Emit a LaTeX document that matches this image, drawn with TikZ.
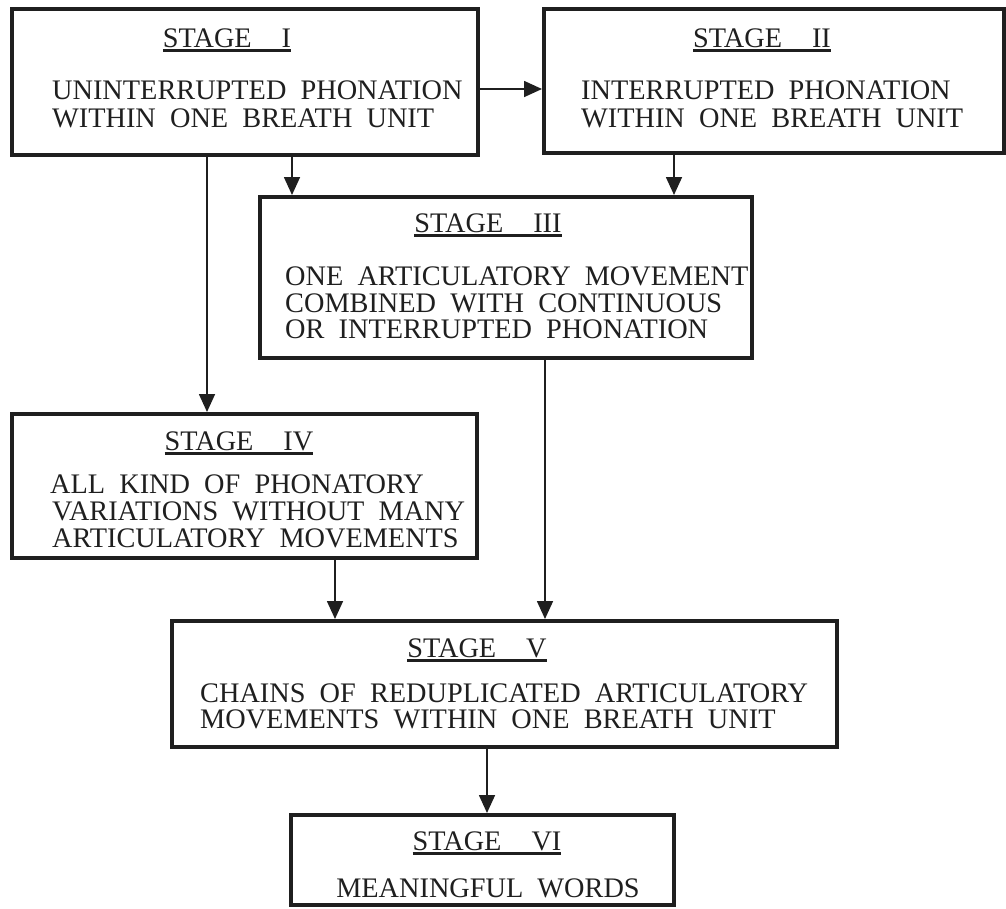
\documentclass[tikz,border=0pt]{standalone}
\usepackage{fontspec}
\setmainfont{Liberation Serif}[WordSpace=2.0]
\usetikzlibrary{arrows.meta}
% underlined stage heading with a wide gap before the numeral
\newcommand\stagetitle[1]{\setbox0\hbox{STAGE\hspace{30pt}#1}\rlap{\rule[-4.5pt]{\wd0}{2.6pt}}\box0}

\begin{document}
\begin{tikzpicture}[x=1pt,y=-1pt,
  stagebox/.style={draw=black!88, line width=4pt, rectangle, inner sep=0pt},
  flow/.style={draw=black!88, line width=1.7pt, -{Triangle[length=18pt,width=16pt]}},
  lbl/.style={inner sep=0pt, anchor=base west, text=black!88, font=\fontsize{28.3}{29}\selectfont},
  ttl/.style={inner sep=0pt, anchor=base, text=black!88, font=\fontsize{28.3}{29}\selectfont}]
\useasboundingbox (0,0) rectangle (1006,908);

% boxes
\node[stagebox, minimum width=466pt, minimum height=146pt] (s1) at (245,82) {};
\node[stagebox, minimum width=460pt, minimum height=144pt] (s2) at (774,81) {};
\node[stagebox, minimum width=492pt, minimum height=161pt] (s3) at (506,277.5) {};
\node[stagebox, minimum width=465pt, minimum height=144pt] (s4) at (244.5,486) {};
\node[stagebox, minimum width=665pt, minimum height=126pt] (s5) at (504.5,684) {};
\node[stagebox, minimum width=383pt, minimum height=90pt] (s6) at (482.5,860) {};

% stage I
\node[ttl] (t1) at (227,47) {\stagetitle{I}};
\node[lbl] (b1a) at (52,99) {UNINTERRUPTED PHONATION};
\node[lbl] (b1b) at (52,127) {WITHIN ONE BREATH UNIT};
% stage II
\node[ttl] (t2) at (762,47) {\stagetitle{II}};
\node[lbl] (b2a) at (581,99) {INTERRUPTED PHONATION};
\node[lbl] (b2b) at (581,127) {WITHIN ONE BREATH UNIT};
% stage III
\node[ttl] (t3) at (488,232) {\stagetitle{III}};
\node[lbl] (b3a) at (285,285) {ONE ARTICULATORY MOVEMENT};
\node[lbl] (b3b) at (285,312) {COMBINED WITH CONTINUOUS};
\node[lbl] (b3c) at (285,338) {OR INTERRUPTED PHONATION};
% stage IV
\node[ttl] (t4) at (239,450) {\stagetitle{IV}};
\node[lbl] (b4a) at (50,493) {ALL KIND OF PHONATORY};
\node[lbl] (b4b) at (52,520) {VARIATIONS WITHOUT MANY};
\node[lbl] (b4c) at (52,547) {ARTICULATORY MOVEMENTS};
% stage V
\node[ttl] (t5) at (477,657) {\stagetitle{V}};
\node[lbl] (b5a) at (200,702) {CHAINS OF REDUPLICATED ARTICULATORY};
\node[lbl] (b5b) at (200,728) {MOVEMENTS WITHIN ONE BREATH UNIT};
% stage VI
\node[ttl] (t6) at (487,850) {\stagetitle{VI}};
\node[ttl] (b6a) at (488,897) {MEANINGFUL WORDS};

% connectors
\draw[flow] ([yshift=-7pt]s1.east) coordinate (c12) -- (c12 -| s2.west);
\draw[flow] ([xshift=-38pt]s1.south) coordinate (c14) -- (c14 |- s4.north);
\draw[flow] ([xshift=47pt]s1.south) coordinate (c13) -- (c13 |- s3.north);
\draw[flow] ([xshift=-100pt]s2.south) coordinate (c23) -- (c23 |- s3.north);
\draw[flow] ([xshift=39pt]s3.south) coordinate (c35) -- (c35 |- s5.north);
\draw[flow] ([xshift=90.5pt]s4.south) coordinate (c45) -- (c45 |- s5.north);
\draw[flow] ([xshift=-17.5pt]s5.south) coordinate (c56) -- (c56 |- s6.north);
\end{tikzpicture}
\end{document}
